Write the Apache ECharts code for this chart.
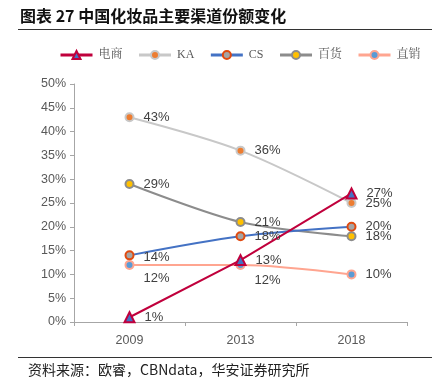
<!DOCTYPE html>
<html><head><meta charset="utf-8">
<script src="https://cdn.jsdelivr.net/npm/echarts@6/dist/echarts.min.js"></script>
<style>html,body{margin:0;padding:0;background:#fff}#c{width:432px;height:385px}</style>
</head><body><div id="c"></div>
<script>
const categories = ['2009', '2013', '2018'];
const seriesNames = ['电商', 'KA', 'CS', '百货', '直销'];
const dianshang = [1, 13, 27];
const ka = [43, 36, 25];
const cs = [14, 18, 20];
const baihuo = [29, 21, 18];
const zhixiao = [12, 12, 10];
const yTicks = [0, 5, 10, 15, 20, 25, 30, 35, 40, 45, 50];

const FONT = '"Liberation Sans", Arial, sans-serif';
const CJK = '"Noto Sans CJK SC", sans-serif';
const lbl = {show: true, position: 'right', distance: 9, formatter: p => p.value + '%', color: '#404040', fontSize: 13, fontFamily: FONT};

function mk(name, data, lineColor, borderColor, fill, symbol, extra) {
  return Object.assign({
    name, type: 'line', data: data.map((v, i) => ({value: v})),
    symbol: symbol, symbolSize: 8, smooth: 0.3,
    lineStyle: {color: lineColor, width: 2},
    itemStyle: {color: fill, borderColor: borderColor, borderWidth: 2},
    label: lbl
  }, extra || {});
}

const chart = echarts.init(document.getElementById('c'), null, {renderer: 'canvas'});
const sDian = mk('电商', dianshang, '#C0003C', '#C0003C', '#4472C4', 'triangle', {smooth: false, symbolSize: 10});
const sKA = mk('KA', ka, '#C8C8C8', '#C8C8C8', '#ED7D31', 'circle');
const sCS = mk('CS', cs, '#4472C4', '#E04A10', '#A5A5A5', 'circle');
sCS.data[0].label = {offset: [0, 2]};
const sBH = mk('百货', baihuo, '#8C8C8C', '#8C8C8C', '#FFC000', 'circle');
const sZX = mk('直销', zhixiao, '#FFA590', '#FFA590', '#5B9BD5', 'circle');
sZX.data[0].label = {offset: [0, 14]};
sZX.data[1].label = {offset: [0, 16]};

chart.setOption({
  animation: false,
  textStyle: {fontFamily: FONT},
  legend: {
    top: 44, left: 54, itemWidth: 32, itemHeight: 10, itemGap: 15,
    data: seriesNames,
    lineStyle: {width: 3},
    textStyle: {color: '#595959', fontSize: 12, padding: [0, 0, 0, 1], fontFamily: '"Liberation Serif", "Noto Serif CJK SC", ' + CJK}
  },
  grid: {left: 74, right: 25, top: 84, bottom: 63},
  xAxis: {
    type: 'category', data: categories, boundaryGap: true,
    axisLine: {lineStyle: {color: '#A6A6A6', width: 1}},
    axisTick: {show: true, length: 4, lineStyle: {color: '#A6A6A6'}},
    axisLabel: {color: '#595959', fontSize: 12.5, margin: 12, fontFamily: FONT}
  },
  yAxis: {
    type: 'value', min: 0, max: 50, interval: 5,
    axisLine: {show: true, lineStyle: {color: '#A6A6A6', width: 1}},
    axisTick: {show: true, length: 4, lineStyle: {color: '#A6A6A6'}},
    splitLine: {show: false},
    axisLabel: {color: '#595959', fontSize: 12.5, margin: 8, formatter: v => yTicks.includes(v) ? v + '%' : '', fontFamily: FONT}
  },
  series: [sKA, sBH, sZX, sCS, sDian],
  graphic: [
    {type: 'text', left: 20, top: 8, style: {text: '图表 27 中国化妆品主要渠道份额变化', fill: '#111', font: 'bold 16px ' + CJK}},
    {type: 'line', shape: {x1: 18, y1: 29.5, x2: 432, y2: 29.5}, style: {stroke: '#333', lineWidth: 1}},
    {type: 'line', shape: {x1: 18, y1: 357.5, x2: 432, y2: 357.5}, style: {stroke: '#333', lineWidth: 1}},
    {type: 'text', left: 28, top: 363, style: {text: '资料来源：欧睿，CBNdata，华安证券研究所', fill: '#222', font: '14px ' + CJK}}
  ]
});
</script></body></html>
